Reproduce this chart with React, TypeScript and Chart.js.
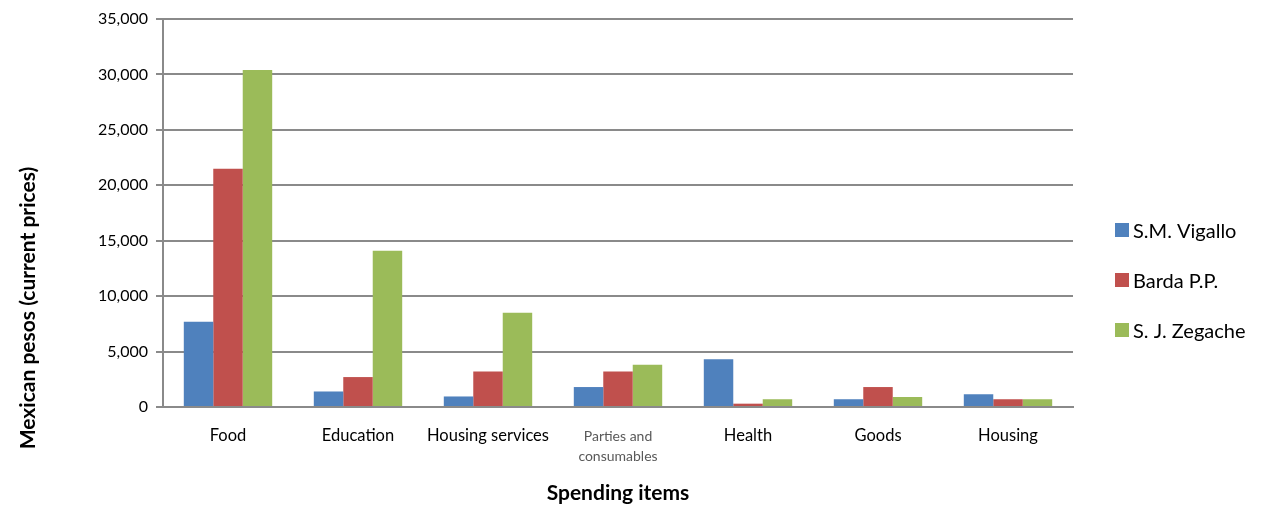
import React, { useEffect, useRef } from "react";
import { Chart, registerables } from "chart.js";

Chart.register(...registerables);

const categories: (string | string[])[] = [
  "Food",
  "Education",
  "Housing services",
  ["Parties and", "consumables"],
  "Health",
  "Goods",
  "Housing",
];
const seriesNames = ["S.M. Vigallo", "Barda P.P.", "S. J. Zegache"];
const vigallo = [7700, 1400, 950, 1800, 4300, 700, 1150];
const barda = [21500, 2700, 3200, 3200, 300, 1800, 700];
const zegache = [30400, 14100, 8500, 3800, 700, 900, 700];
const colors = ["#4F81BD", "#C0504D", "#9BBB59"];
const yTitle = "Mexican pesos (current prices)";
const xTitle = "Spending items";

const FONT = "Lato, 'Liberation Sans', sans-serif";
const GRID = "#8A8A8A";

const extrasPlugin = {
  id: "extras",
  afterDraw(chart: any) {
    const ctx = chart.ctx;
    ctx.save();
    chart.data.datasets.forEach((ds: any, i: number) => {
      const top = 223 + i * 50;
      ctx.fillStyle = ds.backgroundColor;
      ctx.fillRect(1115, top, 14, 14);
      ctx.fillStyle = "#000";
      ctx.font = `20px ${FONT}`;
      ctx.textBaseline = "middle";
      ctx.textAlign = "left";
      ctx.fillText(ds.label, 1133, top + 9);
    });
    // y axis title
    ctx.translate(28, 308);
    ctx.rotate(-Math.PI / 2);
    ctx.font = `bold 21px ${FONT}`;
    ctx.fillStyle = "#000";
    ctx.textAlign = "center";
    ctx.textBaseline = "middle";
    ctx.fillText(yTitle, 0, 0);
    ctx.restore();
  },
};

export default function App() {
  const ref = useRef<HTMLCanvasElement>(null);
  useEffect(() => {
    if (!ref.current) return;
    const data = [vigallo, barda, zegache];
    const chart = new Chart(ref.current, {
      type: "bar",
      data: {
        labels: categories,
        datasets: seriesNames.map((n, i) => ({
          label: n,
          data: data[i],
          backgroundColor: colors[i],
          borderWidth: 0,
          categoryPercentage: 0.68,
          barPercentage: 1,
        })),
      },
      options: {
        animation: false,
        responsive: false,
        maintainAspectRatio: false,
        layout: { padding: { top: 19, right: 188, left: 0, bottom: 0 } },
        plugins: {
          legend: { display: false },
          tooltip: { enabled: false },
        },
        scales: {
          x: {
            grid: { display: false },
            border: { display: true, color: GRID, width: 2 },
            ticks: {
              padding: 11,
              color: (c: any) => (c.index === 3 ? "#595959" : "#000"),
              font: (c: any) =>
                c.index === 3
                  ? { family: FONT, size: 14, lineHeight: 1.45 }
                  : { family: FONT, size: 16.5 },
            },
            title: {
              display: true,
              text: xTitle,
              color: "#000",
              font: { family: FONT, size: 21, weight: "bold" },
              padding: { top: 10, bottom: 0 },
            },
            afterFit(scale: any) {
              scale.height = 506 - 407;
            },
          },
          y: {
            min: 0,
            max: 35000,
            ticks: {
              stepSize: 5000,
              padding: 8,
              color: "#000",
              font: { family: FONT, size: 16 },
              callback: (v: any) => Number(v).toLocaleString("en-US"),
            },
            grid: { color: GRID, lineWidth: 2, tickLength: 7, drawTicks: true },
            border: { display: true, color: GRID, width: 2 },
            title: { display: false },
            afterFit(scale: any) {
              scale.width = 163;
            },
          },
        },
      },
      plugins: [extrasPlugin],
    } as any);
    return () => chart.destroy();
  }, []);
  return (
    <div style={{ position: "absolute", left: 0, top: 0, width: 1261, height: 506, background: "#fff" }}>
      <canvas ref={ref} width={1261} height={506} style={{ width: 1261, height: 506 }} />
    </div>
  );
}
